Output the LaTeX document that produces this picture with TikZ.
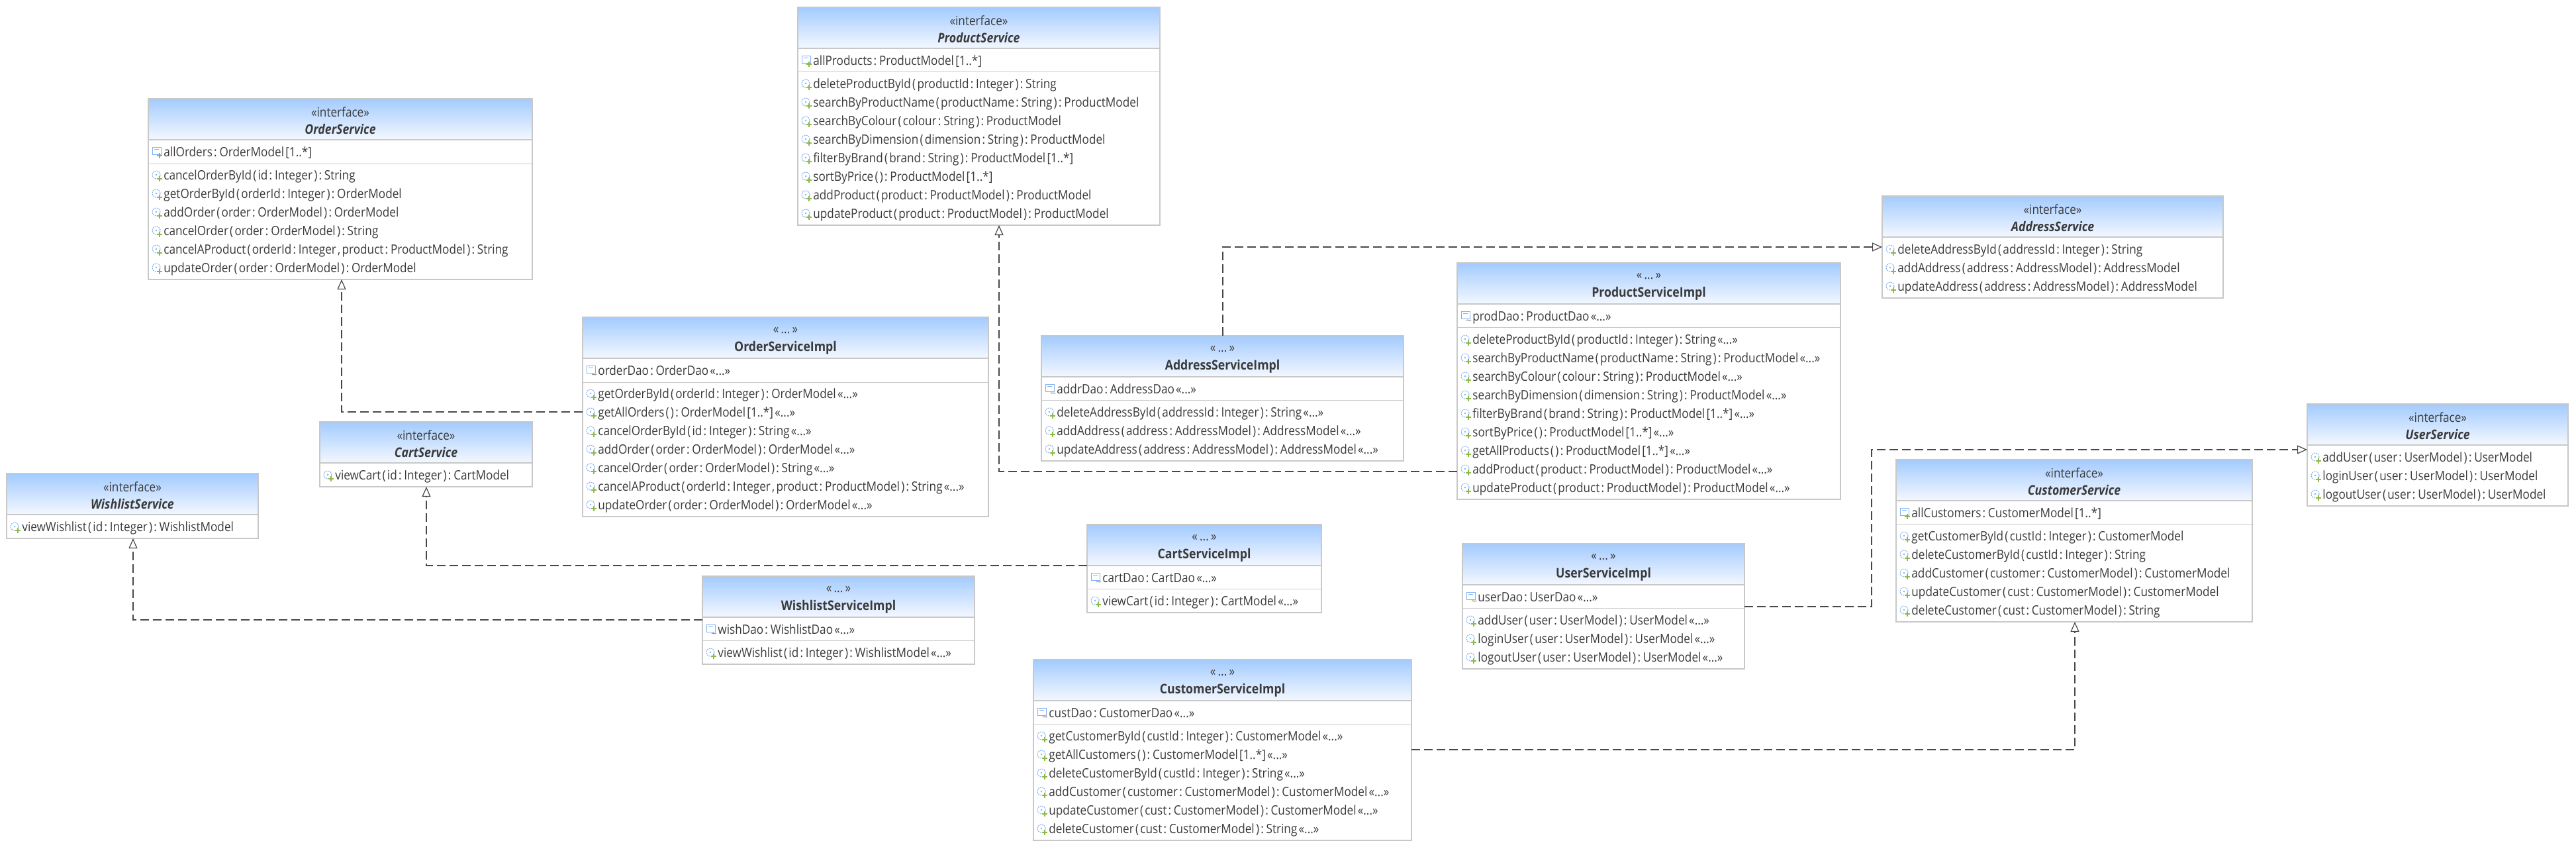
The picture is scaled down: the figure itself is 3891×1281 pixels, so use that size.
\documentclass[tikz,border=0pt]{standalone}
\usepackage{fontspec}
\setmainfont{Open Sans}[WordSpace=0.5,FakeStretch=0.885]
\usetikzlibrary{arrows.meta,calc}
\definecolor{borderc}{HTML}{C8C8C8}
\definecolor{headtop}{HTML}{A3CBFF}
\definecolor{headbot}{HTML}{F4F8FF}
\definecolor{textc}{HTML}{3A3A3A}
\definecolor{linec}{HTML}{484848}
\definecolor{iconblue}{HTML}{7FB0F5}
\definecolor{icongreen}{HTML}{8DB947}
\definecolor{icongrey}{HTML}{8A8A8A}
\newcount\uRowCnt
\newcommand{\gm}{«...»}
\newcommand{\clsbox}[8]{% name x1 y1 x2 y2 headerbottom stereo title
  \pgfmathsetmacro{\bw}{(#4-#2)*0.5}\pgfmathsetmacro{\bh}{(#5-#3)*0.5}
  \shade[top color=headtop,bottom color=headbot] (#2,#3) rectangle (#4,#6);
  \node[classbox,minimum width=\bw pt,minimum height=\bh pt] (#1) at (#2,#3) {};
  \draw[headrule] (#1.west |- 0,#6) -- (#1.east |- 0,#6);
  \pgfmathsetmacro{\cx}{(#2+#4)/2}\pgfmathsetmacro{\sy}{#3+20}\pgfmathsetmacro{\ty}{#3+46}
  \node[stereotext] (#1-stereo) at (\cx,\sy) {#7};
  \node[titletext] (#1-title) at (\cx,\ty) {#8};
}
\newcommand{\sepline}[2]{\draw[seprule] (#1.west |- 0,#2) -- (#1.east |- 0,#2);}
\newcommand{\methodicon}[1]{%
  \begin{scope}[shift={(#1)}]
    \draw[iconblue,line width=0.5pt,dash pattern=on 1pt off 0.6pt] (-11,-1) circle (6);
    \fill[iconblue] (-11,-1) circle (1.4);
    \draw[icongreen,line width=1.1pt] (-10,5) -- (-2,5) (-6,1) -- (-6,9);
  \end{scope}}
\newcommand{\attricon}[1]{%
  \begin{scope}[shift={(#1)}]
    \draw[iconblue,line width=0.4pt] (-17,-8) rectangle (-4,3);
    \draw[iconblue,line width=0.4pt] (-14,-5) -- (-7,-5);
    \draw[icongreen,line width=1.1pt] (-10,5) -- (-2,5) (-6,1) -- (-6,9);
  \end{scope}}
\newcommand{\privicon}[1]{%
  \begin{scope}[shift={(#1)}]
    \draw[iconblue,line width=0.4pt] (-17,-8) rectangle (-4,3);
    \draw[iconblue,line width=0.4pt] (-14,-5) -- (-7,-5);
    \draw[icongrey,line width=0.5pt] (-9,6) .. controls (-7,3) and (-5,8) .. (-2,5);
  \end{scope}}
% box, icon macro, first row y, list of {texts}
\newcommand{\urows}[4]{%
  \foreach \rowtxt [count=\ri from 0] in {#4} {%
    \pgfmathsetmacro{\ry}{#3+28*\ri}
    \global\advance\uRowCnt by 1
    \node[rowtext] (row\the\uRowCnt) at ([xshift=11.5pt]#1.west |- 0,\ry) {\rowtxt};
    \coordinate (iconpos) at ([xshift=11.5pt]#1.west |- 0,\ry);
    #2{iconpos}
  }}
\begin{document}
\begin{tikzpicture}[x=0.5pt,y=-0.5pt,
  classbox/.style={draw=borderc,line width=1pt,anchor=north west,inner sep=0pt,outer sep=0pt},
  headrule/.style={draw=borderc,line width=1pt},
  seprule/.style={draw=borderc,line width=0.5pt},
  stereotext/.style={text=textc,font=\fontsize{9.7}{12}\selectfont,inner sep=0pt,anchor=center},
  titletext/.style={text=textc,font=\fontsize{10}{13}\selectfont\bfseries,inner sep=0pt,anchor=center},
  rowtext/.style={text=textc,font=\fontsize{9.7}{12}\selectfont,inner sep=0pt,anchor=west,yshift=-0.6pt,text height=7.6pt,text depth=2.2pt},
  realize/.style={draw=linec,line width=0.6pt,dash pattern=on 6.5pt off 3pt,
    -{Triangle[fill=white,length=7.5pt,width=6.5pt]}}]
\fill[white] (0,0) rectangle (3891,1281);
\useasboundingbox (0,0) rectangle (3891,1281);

% ---- ProductService
\clsbox{ProductService}{1205}{11}{1752}{340}{73}{«interface»}{\itshape ProductService}
\sepline{ProductService}{108}
\urows{ProductService}{\attricon}{92}{{allProducts : ProductModel [1..*]}}
\urows{ProductService}{\methodicon}{127}{{deleteProductById ( productId : Integer ) : String},{searchByProductName ( productName : String ) : ProductModel},{searchByColour ( colour : String ) : ProductModel},{searchByDimension ( dimension : String ) : ProductModel},{filterByBrand ( brand : String ) : ProductModel [1..*]},{sortByPrice ( ) : ProductModel [1..*]},{addProduct ( product : ProductModel ) : ProductModel},{updateProduct ( product : ProductModel ) : ProductModel}}

% ---- OrderService
\clsbox{OrderService}{224}{149}{804}{422}{211}{«interface»}{\itshape OrderService}
\sepline{OrderService}{247}
\urows{OrderService}{\attricon}{230}{{allOrders : OrderModel [1..*]}}
\urows{OrderService}{\methodicon}{265}{{cancelOrderById ( id : Integer ) : String},{getOrderById ( orderId : Integer ) : OrderModel},{addOrder ( order : OrderModel ) : OrderModel},{cancelOrder ( order : OrderModel ) : String},{cancelAProduct ( orderId : Integer , product : ProductModel ) : String},{updateOrder ( order : OrderModel ) : OrderModel}}

% ---- OrderServiceImpl
\clsbox{OrderServiceImpl}{880}{479}{1493}{780}{541}{«\,...\,»}{OrderServiceImpl}
\sepline{OrderServiceImpl}{577}
\urows{OrderServiceImpl}{\privicon}{560}{{orderDao : OrderDao \gm}}
\urows{OrderServiceImpl}{\methodicon}{595}{{getOrderById ( orderId : Integer ) : OrderModel \gm},{getAllOrders ( ) : OrderModel [1..*] \gm},{cancelOrderById ( id : Integer ) : String \gm},{addOrder ( order : OrderModel ) : OrderModel \gm},{cancelOrder ( order : OrderModel ) : String \gm},{cancelAProduct ( orderId : Integer , product : ProductModel ) : String \gm},{updateOrder ( order : OrderModel ) : OrderModel \gm}}

% ---- CartService
\clsbox{CartService}{483}{637}{804}{735}{699}{«interface»}{\itshape CartService}
\urows{CartService}{\methodicon}{718}{{viewCart ( id : Integer ) : CartModel}}

% ---- WishlistService
\clsbox{WishlistService}{10}{715}{390}{813}{777}{«interface»}{\itshape WishlistService}
\urows{WishlistService}{\methodicon}{796}{{viewWishlist ( id : Integer ) : WishlistModel}}

% ---- AddressServiceImpl
\clsbox{AddressServiceImpl}{1573}{507}{2120}{696}{569}{«\,...\,»}{AddressServiceImpl}
\sepline{AddressServiceImpl}{604}
\urows{AddressServiceImpl}{\privicon}{588}{{addrDao : AddressDao \gm}}
\urows{AddressServiceImpl}{\methodicon}{623}{{deleteAddressById ( addressId : Integer ) : String \gm},{addAddress ( address : AddressModel ) : AddressModel \gm},{updateAddress ( address : AddressModel ) : AddressModel \gm}}

% ---- ProductServiceImpl
\clsbox{ProductServiceImpl}{2201}{397}{2780}{754}{459}{«\,...\,»}{ProductServiceImpl}
\sepline{ProductServiceImpl}{494}
\urows{ProductServiceImpl}{\privicon}{478}{{prodDao : ProductDao \gm}}
\urows{ProductServiceImpl}{\methodicon}{513}{{deleteProductById ( productId : Integer ) : String \gm},{searchByProductName ( productName : String ) : ProductModel \gm},{searchByColour ( colour : String ) : ProductModel \gm},{searchByDimension ( dimension : String ) : ProductModel \gm},{filterByBrand ( brand : String ) : ProductModel [1..*] \gm},{sortByPrice ( ) : ProductModel [1..*] \gm},{getAllProducts ( ) : ProductModel [1..*] \gm},{addProduct ( product : ProductModel ) : ProductModel \gm},{updateProduct ( product : ProductModel ) : ProductModel \gm}}

% ---- AddressService
\clsbox{AddressService}{2843}{296}{3358}{450}{358}{«interface»}{\itshape AddressService}
\urows{AddressService}{\methodicon}{377}{{deleteAddressById ( addressId : Integer ) : String},{addAddress ( address : AddressModel ) : AddressModel},{updateAddress ( address : AddressModel ) : AddressModel}}

% ---- UserService
\clsbox{UserService}{3485}{610}{3879}{764}{672}{«interface»}{\itshape UserService}
\urows{UserService}{\methodicon}{691}{{addUser ( user : UserModel ) : UserModel},{loginUser ( user : UserModel ) : UserModel},{logoutUser ( user : UserModel ) : UserModel}}

% ---- CustomerService
\clsbox{CustomerService}{2864}{694}{3402}{939}{756}{«interface»}{\itshape CustomerService}
\sepline{CustomerService}{792}
\urows{CustomerService}{\attricon}{775}{{allCustomers : CustomerModel [1..*]}}
\urows{CustomerService}{\methodicon}{810}{{getCustomerById ( custId : Integer ) : CustomerModel},{deleteCustomerById ( custId : Integer ) : String},{addCustomer ( customer : CustomerModel ) : CustomerModel},{updateCustomer ( cust : CustomerModel ) : CustomerModel},{deleteCustomer ( cust : CustomerModel ) : String}}

% ---- CartServiceImpl
\clsbox{CartServiceImpl}{1642}{792}{1996}{925}{854}{«\,...\,»}{CartServiceImpl}
\sepline{CartServiceImpl}{889}
\urows{CartServiceImpl}{\privicon}{873}{{cartDao : CartDao \gm}}
\urows{CartServiceImpl}{\methodicon}{908}{{viewCart ( id : Integer ) : CartModel \gm}}

% ---- WishlistServiceImpl
\clsbox{WishlistServiceImpl}{1061}{870}{1472}{1003}{932}{«\,...\,»}{WishlistServiceImpl}
\sepline{WishlistServiceImpl}{967}
\urows{WishlistServiceImpl}{\privicon}{951}{{wishDao : WishlistDao \gm}}
\urows{WishlistServiceImpl}{\methodicon}{986}{{viewWishlist ( id : Integer ) : WishlistModel \gm}}

% ---- UserServiceImpl
\clsbox{UserServiceImpl}{2209}{821}{2635}{1010}{883}{«\,...\,»}{UserServiceImpl}
\sepline{UserServiceImpl}{918}
\urows{UserServiceImpl}{\privicon}{902}{{userDao : UserDao \gm}}
\urows{UserServiceImpl}{\methodicon}{937}{{addUser ( user : UserModel ) : UserModel \gm},{loginUser ( user : UserModel ) : UserModel \gm},{logoutUser ( user : UserModel ) : UserModel \gm}}

% ---- CustomerServiceImpl
\clsbox{CustomerServiceImpl}{1561}{996}{2132}{1269}{1058}{«\,...\,»}{CustomerServiceImpl}
\sepline{CustomerServiceImpl}{1093}
\urows{CustomerServiceImpl}{\privicon}{1077}{{custDao : CustomerDao \gm}}
\urows{CustomerServiceImpl}{\methodicon}{1112}{{getCustomerById ( custId : Integer ) : CustomerModel \gm},{getAllCustomers ( ) : CustomerModel [1..*] \gm},{deleteCustomerById ( custId : Integer ) : String \gm},{addCustomer ( customer : CustomerModel ) : CustomerModel \gm},{updateCustomer ( cust : CustomerModel ) : CustomerModel \gm},{deleteCustomer ( cust : CustomerModel ) : String \gm}}

% ---- connectors
\draw[realize] (OrderServiceImpl.west |- 0,622) -| (OrderService.south -| 516,0);
\draw[realize] (ProductServiceImpl.west |- 0,712) -| (ProductService.south -| 1509,0);
\draw[realize] (AddressServiceImpl.north -| 1847,0) |- (AddressService.west |- 0,373);
\draw[realize] (CartServiceImpl.west |- 0,854) -| (CartService.south -| 644,0);
\draw[realize] (WishlistServiceImpl.west |- 0,936) -| (WishlistService.south -| 201,0);
\draw[realize] (UserServiceImpl.east |- 0,916) -| (2827,797) |- (UserService.west |- 0,679);
\draw[realize] (CustomerServiceImpl.east |- 0,1132) -| (CustomerService.south -| 3134,0);
\end{tikzpicture}
\end{document}
